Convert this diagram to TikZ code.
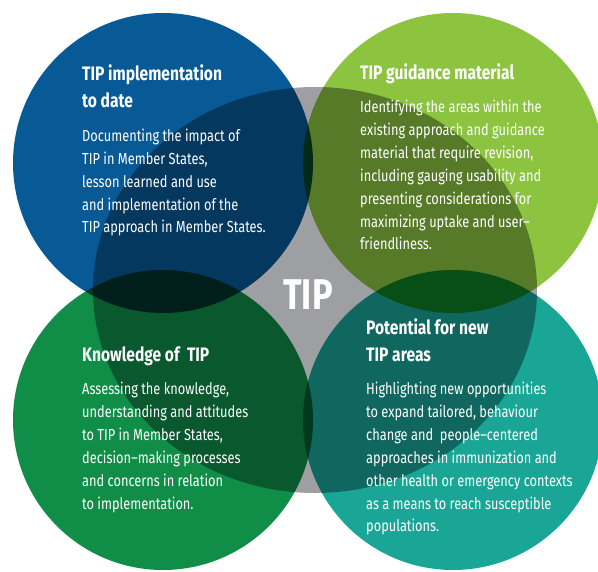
\documentclass[tikz,border=0pt]{standalone}
\usepackage{fontspec}
\setmainfont{Fira Sans}[FakeStretch=0.8]

\definecolor{tipblue}{HTML}{075A96}
\definecolor{tiplime}{HTML}{8CC440}
\definecolor{tipgreen}{HTML}{108E48}
\definecolor{tipteal}{HTML}{1AA696}
\definecolor{tipgrey}{HTML}{9D9FA3}

% multi-line nodes sit on the baseline of their last line
\tikzset{
  disc/.style={blend mode=multiply},
  head/.style={anchor=base west, inner sep=0pt, text=white, align=left,
    font=\bfseries\fontsize{19.5}{27.5}\selectfont},
  body/.style={anchor=base west, inner sep=0pt, text=white, align=left,
    font=\fontsize{16}{22.9}\selectfont}
}

\begin{document}
\begin{tikzpicture}[x=1pt,y=-1pt]

    \useasboundingbox (0,0) rectangle (598,572);
    \clip (0,0) rectangle (598,572);

    % these are the circles
    \fill[tipgrey, disc] (315,290) ellipse[x radius=222pt, y radius=203pt];
    \fill[tipblue, disc] (163,163) circle[radius=150pt];
    \fill[tiplime, disc] (453,163) circle[radius=150pt];
    \fill[tipgreen, disc] (163,420) circle[radius=150pt];
    \fill[tipteal, disc] (453,420) circle[radius=150pt];

    % middle
    \node[text=white, inner sep=0pt, font=\bfseries\fontsize{43}{43}\selectfont] (tip) at (308,295) {TIP};

    % top left
    \node[head] (impl) at (82,108) {TIP implementation\\to date};
    \node[body] (impltext) at (82,233) {Documenting the impact of\\TIP in Member States,\\lesson learned and use\\and implementation of the\\TIP approach in Member States.};

    % top right
    \node[head] (guid) at (360,80) {TIP guidance material};
    \node[body] (guidtext) at (360,250) {Identifying the areas within the\\existing approach and guidance\\material that require revision,\\including gauging usability and\\presenting considerations for\\maximizing uptake and user--\\friendliness.};

    % bottom left
    \node[head] (know) at (82,362) {Knowledge of~ TIP};
    \node[body] (knowtext) at (82,509) {Assessing the knowledge,\\understanding and attitudes\\to TIP in Member States,\\decision--making processes\\and concerns in relation\\to implementation.};

    % bottom right
    \node[head] (new) at (366,362) {Potential for new\\TIP areas};
    \node[body] (newtext) at (366,532) {Highlighting new opportunities\\to expand tailored, behaviour\\change and~ people--centered\\approaches in immunization and\\other health or emergency contexts\\as a means to reach susceptible\\populations.};

\end{tikzpicture}
\end{document}
